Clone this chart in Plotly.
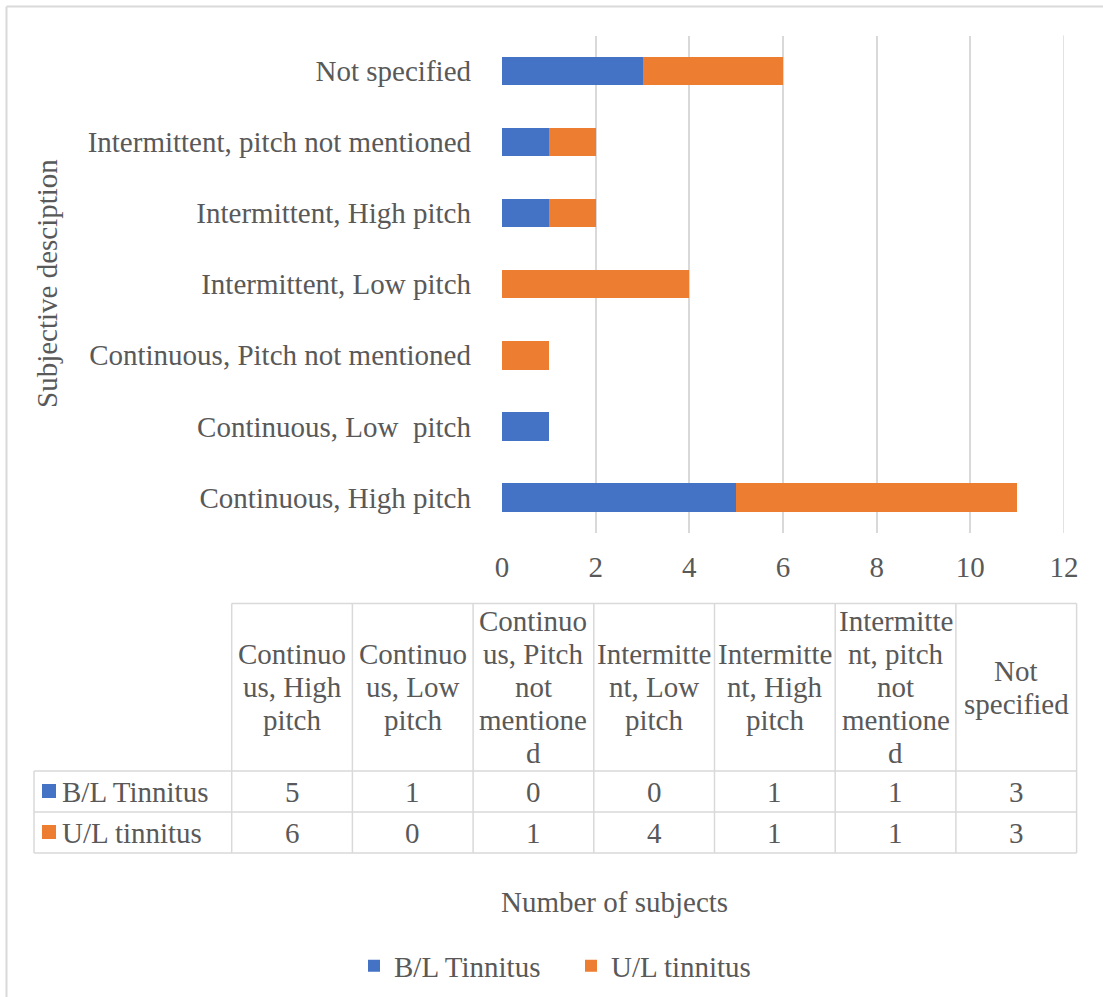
import plotly.graph_objects as go

# ---- data -------------------------------------------------------------
categories = [
    "Continuous, High pitch",
    "Continuous, Low \u00a0pitch",
    "Continuous, Pitch not mentioned",
    "Intermittent, Low pitch",
    "Intermittent, High pitch",
    "Intermittent, pitch not mentioned",
    "Not specified",
]
series_names = ["B/L Tinnitus", "U/L tinnitus"]
bl_values = [5, 1, 0, 0, 1, 1, 3]
ul_values = [6, 0, 1, 4, 1, 1, 3]
x_ticks = [0, 2, 4, 6, 8, 10, 12]

# wrapped column headings of the data table
table_headers = [
    ["Continuo", "us, High", "pitch"],
    ["Continuo", "us, Low", "pitch"],
    ["Continuo", "us, Pitch", "not", "mentione", "d"],
    ["Intermitte", "nt, Low", "pitch"],
    ["Intermitte", "nt, High", "pitch"],
    ["Intermitte", "nt, pitch", "not", "mentione", "d"],
    ["Not", "specified"],
]

# ---- style ------------------------------------------------------------
W, H = 1103, 997
FONT = "Liberation Serif"
FS = 29
TEXT = "#595959"
GRID = "#d9d9d9"
COLORS = ["#4472C4", "#ED7D31"]


def px(x):
    return x / W


def py(y):
    return 1 - y / H


fig = go.Figure()
for name, vals, col in zip(series_names, [bl_values, ul_values], COLORS):
    fig.add_trace(go.Bar(
        y=categories, x=vals, name=name, orientation="h",
        marker=dict(color=col, line=dict(width=0)),
    ))

shapes = []
annotations = []

# chart frame (top and left edges visible)
shapes.append(dict(type="line", xref="paper", yref="paper",
                   x0=px(6.5), x1=px(1115), y0=py(6.5), y1=py(6.5),
                   line=dict(color=GRID, width=2)))
shapes.append(dict(type="line", xref="paper", yref="paper",
                   x0=px(6.5), x1=px(6.5), y0=py(6.5), y1=py(1010),
                   line=dict(color=GRID, width=2)))

# gridline at the far end of the value axis
shapes.append(dict(type="line", xref="x", yref="paper",
                   x0=x_ticks[-1], x1=x_ticks[-1], y0=py(533), y1=py(35.5),
                   line=dict(color=GRID, width=1.5), layer="below"))

# ---- data table beneath the chart -------------------------------------
T_LEFT = 34.0
C0 = 231.7
CW = 120.7
T_TOP = 603.5
HDR_BOT = 771.0
ROW_H = 41.0
LINE_SP = 33.0
n_cols = len(categories)
T_RIGHT = C0 + n_cols * CW
row_edges = [HDR_BOT + i * ROW_H for i in range(len(series_names) + 1)]


def hline(y, x0, x1):
    shapes.append(dict(type="line", xref="paper", yref="paper",
                       x0=px(x0), x1=px(x1), y0=py(y), y1=py(y),
                       line=dict(color=GRID, width=1.5)))


def vline(x, y0, y1):
    shapes.append(dict(type="line", xref="paper", yref="paper",
                       x0=px(x), x1=px(x), y0=py(y0), y1=py(y1),
                       line=dict(color=GRID, width=1.5)))


hline(T_TOP, C0, T_RIGHT)
for y in row_edges:
    hline(y, T_LEFT, T_RIGHT)
vline(T_LEFT, HDR_BOT, row_edges[-1])
for i in range(n_cols + 1):
    vline(C0 + i * CW, T_TOP, row_edges[-1])

# heading text, each wrapped line centred in the heading cell
hdr_mid = (T_TOP + HDR_BOT) / 2
for i, lines in enumerate(table_headers):
    cx = C0 + (i + 0.5) * CW
    n = len(lines)
    for k, ln in enumerate(lines):
        annotations.append(dict(
            xref="paper", yref="paper", x=px(cx),
            y=py(hdr_mid + (k - (n - 1) / 2) * LINE_SP),
            text=ln, showarrow=False, xanchor="center", yanchor="middle",
            font=dict(family=FONT, size=FS, color=TEXT)))

# value rows with colour keys
for r, (name, vals, col) in enumerate(zip(series_names, [bl_values, ul_values], COLORS)):
    cy = (row_edges[r] + row_edges[r + 1]) / 2
    shapes.append(dict(type="rect", xref="paper", yref="paper",
                       x0=px(42), x1=px(56), y0=py(cy - 7.5), y1=py(cy + 6.5),
                       fillcolor=col, line=dict(width=0)))
    annotations.append(dict(
        xref="paper", yref="paper", x=px(60), y=py(cy), text=name,
        showarrow=False, xanchor="left", yanchor="middle",
        font=dict(family=FONT, size=FS, color=TEXT)))
    for i, v in enumerate(vals):
        annotations.append(dict(
            xref="paper", yref="paper", x=px(C0 + (i + 0.5) * CW), y=py(cy),
            text=str(v), showarrow=False, xanchor="center", yanchor="middle",
            font=dict(family=FONT, size=FS, color=TEXT)))

# axis titles
annotations.append(dict(
    xref="paper", yref="paper", x=px(47), y=py(284),
    text="Subjective desciption", textangle=-90, showarrow=False,
    xanchor="center", yanchor="middle",
    font=dict(family=FONT, size=FS, color=TEXT)))
annotations.append(dict(
    xref="paper", yref="paper", x=px(614), y=py(902),
    text="Number of subjects", showarrow=False,
    xanchor="center", yanchor="middle",
    font=dict(family=FONT, size=FS, color=TEXT)))

fig.update_layout(
    width=W, height=H,
    margin=dict(l=0, r=0, t=0, b=0, autoexpand=False),
    paper_bgcolor="white", plot_bgcolor="white",
    barmode="stack", bargap=0.6,
    font=dict(family=FONT, size=FS, color=TEXT),
    xaxis=dict(
        domain=[px(502), px(1064)], range=[0, 12],
        tickvals=x_ticks, ticktext=[str(t) for t in x_ticks],
        showgrid=True, gridcolor=GRID, gridwidth=1.5,
        zeroline=False, showline=False, ticks="",
        ticklabelstandoff=14, automargin=False,
        tickfont=dict(family=FONT, size=FS, color=TEXT),
        fixedrange=True,
    ),
    yaxis=dict(
        domain=[py(533), py(35.5)],
        categoryorder="array", categoryarray=categories,
        showgrid=False, zeroline=False, showline=False, ticks="",
        ticklabelstandoff=30, automargin=False,
        tickfont=dict(family=FONT, size=FS, color=TEXT),
        fixedrange=True,
    ),
    legend=dict(
        orientation="h", x=px(354), y=py(966),
        xanchor="left", yanchor="middle",
        font=dict(family=FONT, size=FS, color=TEXT),
        bgcolor="rgba(0,0,0,0)", traceorder="normal",
        entrywidth=172, entrywidthmode="pixels",
    ),
    shapes=shapes,
    annotations=annotations,
)

fig.write_html("out.html")
